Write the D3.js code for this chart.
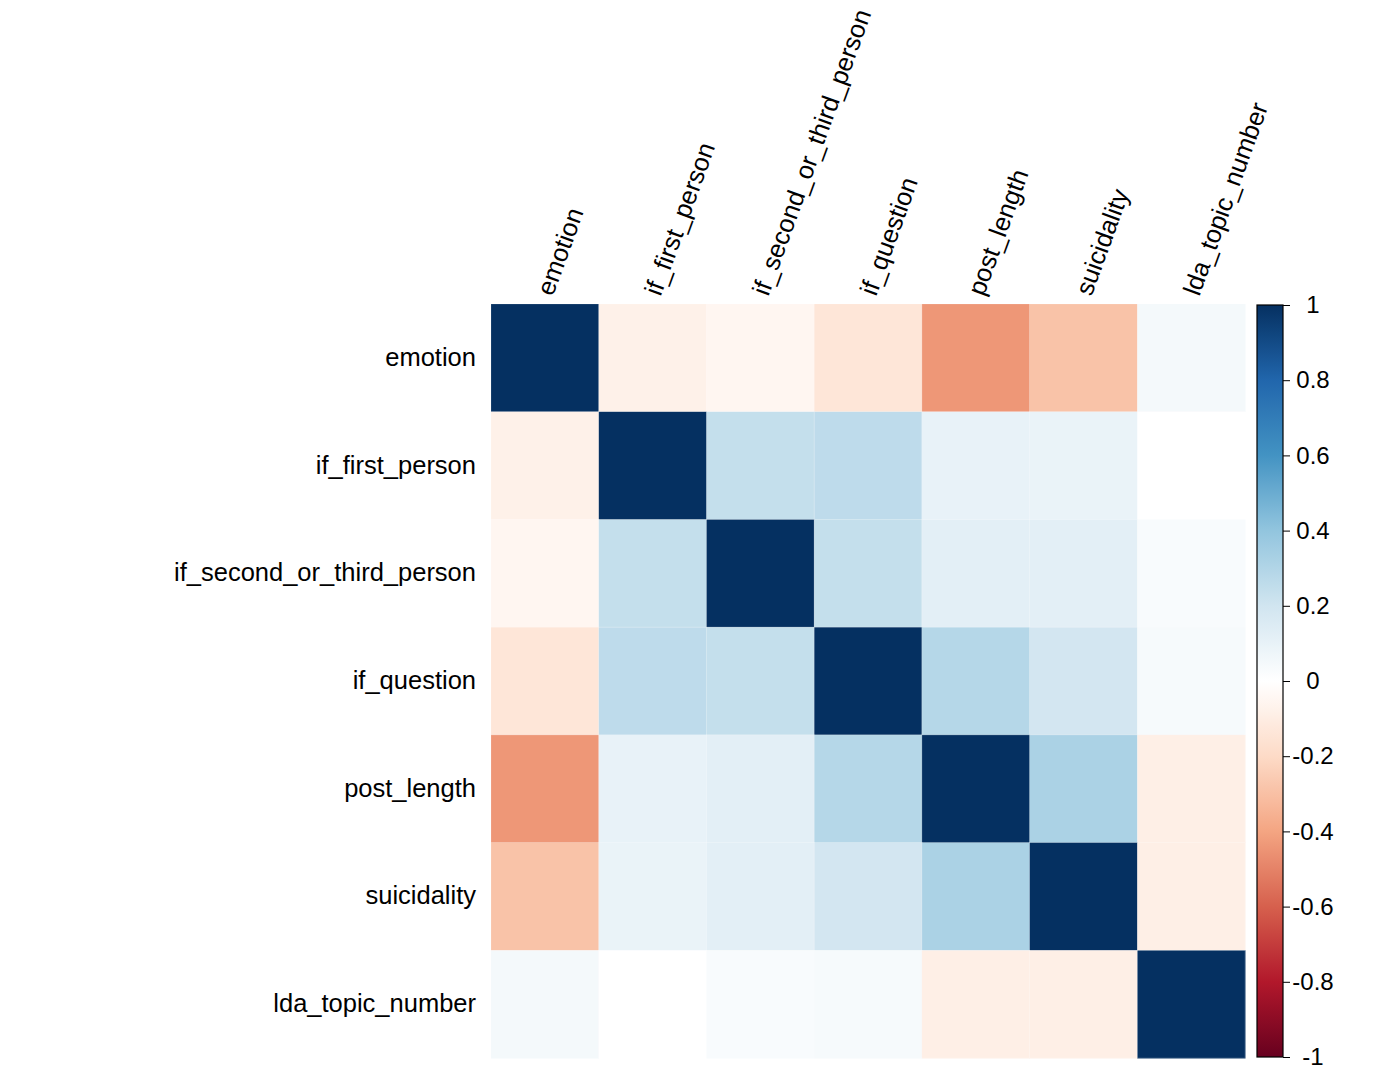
<!DOCTYPE html>
<html>
<head>
<meta charset="utf-8">
<script src="https://cdn.jsdelivr.net/npm/d3@7"></script>
<style>
  html, body { margin: 0; padding: 0; background: #fff; }
  svg { display: block; font-family: "Liberation Sans", Arial, Helvetica, sans-serif; }
</style>
</head>
<body>
<svg id="chart" width="1380" height="1084"></svg>
<script>
// ---- data ----
const variables = ["emotion", "if_first_person", "if_second_or_third_person", "if_question", "post_length", "suicidality", "lda_topic_number"];
const corrEmotion      = [ 1.00, -0.08, -0.05, -0.14, -0.44, -0.29,  0.05];
const corrFirstPerson  = [-0.08,  1.00,  0.24,  0.26,  0.10,  0.09,  0.00];
const corrSecondThird  = [-0.05,  0.24,  1.00,  0.24,  0.12,  0.12,  0.03];
const corrQuestion     = [-0.14,  0.26,  0.24,  1.00,  0.29,  0.19,  0.04];
const corrPostLength   = [-0.44,  0.10,  0.12,  0.29,  1.00,  0.32, -0.09];
const corrSuicidality  = [-0.29,  0.09,  0.12,  0.19,  0.32,  1.00, -0.09];
const corrLdaTopic     = [ 0.05,  0.00,  0.03,  0.04, -0.09, -0.09,  1.00];
const corrRows = [corrEmotion, corrFirstPerson, corrSecondThird, corrQuestion, corrPostLength, corrSuicidality, corrLdaTopic];
const legendTicks = [1, 0.8, 0.6, 0.4, 0.2, 0, -0.2, -0.4, -0.6, -0.8, -1];
const legendTickLabels = ["1", "0.8", "0.6", "0.4", "0.2", "0", "-0.2", "-0.4", "-0.6", "-0.8", "-1"];
const paletteColors = ["#67001F", "#B2182B", "#D6604D", "#F4A582", "#FDDBC7", "#FFFFFF", "#D1E5F0", "#92C5DE", "#4393C3", "#2166AC", "#053061"];

// ---- layout ----
const svg = d3.select("#chart");
const gridLeft = 491, gridRight = 1245, gridTop = 304, gridBottom = 1058;

const x = d3.scaleBand().domain(variables).range([gridLeft, gridRight]).padding(0);
const y = d3.scaleBand().domain(variables).range([gridTop, gridBottom]).padding(0);

const interp = d3.piecewise(d3.interpolateRgb, paletteColors);
const color = v => interp((v + 1) / 2);

const cells = [];
corrRows.forEach((row, i) => row.forEach((v, j) => cells.push({ r: variables[i], c: variables[j], v })));

svg.append("g").selectAll("rect").data(cells).join("rect")
  .attr("x", d => x(d.c))
  .attr("y", d => y(d.r))
  .attr("width", x.bandwidth() + 0.5)
  .attr("height", y.bandwidth() + 0.5)
  .attr("fill", d => color(d.v));

// faint cell borders
svg.append("g").selectAll("rect").data(cells).join("rect")
  .attr("x", d => x(d.c))
  .attr("y", d => y(d.r))
  .attr("width", x.bandwidth())
  .attr("height", y.bandwidth())
  .attr("fill", "none")
  .attr("stroke", "#ffffff")
  .attr("stroke-opacity", 0.25)
  .attr("stroke-width", 0.6);

// row labels
svg.append("g").selectAll("text").data(variables).join("text")
  .attr("x", gridLeft - 15)
  .attr("y", d => y(d) + y.bandwidth() / 2 - 1)
  .attr("text-anchor", "end")
  .attr("dominant-baseline", "central")
  .attr("font-size", 25.5)
  .attr("fill", "#000")
  .text(d => d);

// column labels
svg.append("g").selectAll("text").data(variables).join("text")
  .attr("transform", d => `translate(${x(d) + x.bandwidth() / 2 + 8},${gridTop - 7}) rotate(-70)`)
  .attr("text-anchor", "start")
  .attr("font-size", 25.5)
  .attr("fill", "#000")
  .text(d => d);

// colour legend
const barLeft = 1257, barWidth = 26;
const ly = d3.scaleLinear().domain([1, -1]).range([305, 1057]);
const defs = svg.append("defs");
const grad = defs.append("linearGradient").attr("id", "cbar")
  .attr("x1", 0).attr("x2", 0).attr("y1", 0).attr("y2", 1);
grad.selectAll("stop").data(d3.range(0, 1.0001, 0.02)).join("stop")
  .attr("offset", t => t)
  .attr("stop-color", t => color(1 - 2 * t));
svg.append("rect")
  .attr("x", barLeft).attr("y", ly(1))
  .attr("width", barWidth).attr("height", ly(-1) - ly(1))
  .attr("fill", "url(#cbar)")
  .attr("stroke", "#000").attr("stroke-width", 1.2);

const axis = d3.axisRight(ly).tickValues(legendTicks).tickSize(7).tickPadding(0)
  .tickFormat((d, i) => legendTickLabels[i]);
const ag = svg.append("g").attr("transform", `translate(${barLeft + barWidth},0)`).call(axis);
ag.select(".domain").remove();
ag.selectAll(".tick line").attr("stroke", "#000").attr("stroke-width", 1);
ag.selectAll(".tick text")
  .attr("x", 30)
  .attr("text-anchor", "middle")
  .attr("font-size", 24)
  .attr("font-family", "'Liberation Sans', Arial, sans-serif")
  .attr("fill", "#000");
</script>
</body>
</html>
